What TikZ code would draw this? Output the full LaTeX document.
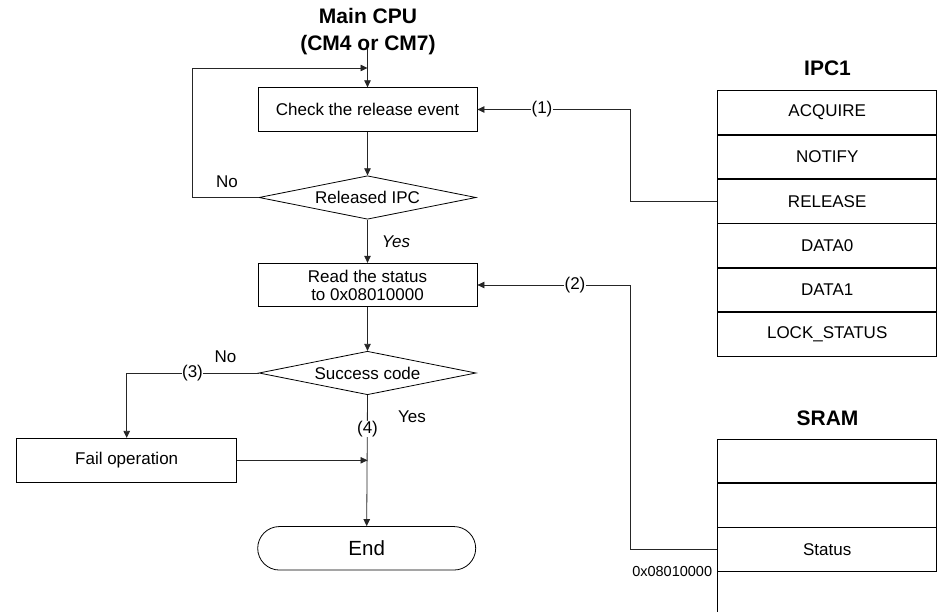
\documentclass[tikz,border=0pt]{standalone}
\usepackage{fontspec}
\setmainfont{Liberation Sans}
\usetikzlibrary{shapes.geometric,shapes.misc,arrows.meta,calc}
\begin{document}
\begin{tikzpicture}[x=1pt,y=-1pt,
  txt/.style={font=\fontsize{17}{20}\selectfont},
  box/.style={draw=black,line width=0.8pt,rectangle,minimum width=219pt,minimum height=43.5pt,inner sep=0pt,txt,align=center},
  dec/.style={draw=black,line width=0.8pt,diamond,aspect=5,minimum width=217pt,minimum height=43.5pt,inner sep=0pt,txt},
  term/.style={draw=black,line width=0.8pt,rounded rectangle,minimum width=218pt,minimum height=43.5pt,inner sep=0pt,font=\fontsize{20.5}{24}\selectfont},
  reg/.style={draw=black,line width=0.8pt,rectangle,minimum width=219pt,minimum height=43.6pt,inner sep=0pt,txt},
  title/.style={font=\bfseries\fontsize{21}{26.5}\selectfont,align=center},
  conn/.style={draw=black!85,line width=0.8pt},
  arr/.style={conn,-{Triangle[length=7pt,width=6.5pt]}},
  lbl/.style={txt,fill=white,inner sep=0.5pt},
  plain/.style={txt,inner sep=0pt}
]
\useasboundingbox (0,0) rectangle (937,612);

% title
\node[title] (cpu) at (368,31.5) {Main CPU\\(CM4 or CM7)};
\coordinate (top) at (367.5,48);
\coordinate (loopL) at (192.3,68);

% flow nodes
\node[box] (b1) at (367.5,109.5) {Check the release event};
\node[dec] (d1) at (367.5,197.5) {Released IPC};
\node[box] (b2) at (367.5,285) {Read the status\\[-2pt]to 0x08010000};
\node[dec] (d2) at (367.5,373) {Success code};
\node[box,minimum width=220pt,minimum height=44pt] (fail) at (126.7,460.3) {Fail operation};
\node[term] (end) at (366.7,548.3) {End};

% IPC1 registers
\node[title] (ipct) at (827.5,68) {IPC1};
\node[reg] (acq) at (827.2,112.5) {ACQUIRE};
\node[reg,anchor=north] (not) at (acq.south) {NOTIFY};
\node[reg,anchor=north] (rel) at (not.south) {RELEASE};
\node[reg,anchor=north] (da0) at (rel.south) {DATA0};
\node[reg,anchor=north] (da1) at (da0.south) {DATA1};
\node[reg,anchor=north] (lck) at (da1.south) {LOCK\_STATUS};

% SRAM
\node[title] (sramt) at (827.5,418) {SRAM};
\node[reg] (s1) at (827.2,460.8) {};
\node[reg,anchor=north] (s2) at (s1.south) {};
\node[reg,anchor=north] (sta) at (s2.south) {Status};
\coordinate (sbl) at (sta.south west);
\coordinate (sbr) at (sta.south east);
\draw[draw=black,line width=0.8pt] (sbl) -- (sbl |- 0,612);
\draw[draw=black,line width=0.8pt] (sbr) -- (sbr |- 0,612);
\node[font=\fontsize{14.5}{17}\selectfont,anchor=east,inner sep=0pt] (addr) at ($(sbl)+(-5,0)$) {0x08010000};

% connectors in flow
\coordinate (join) at (367.5,68);
\draw[arr] (top) -- (b1.north);
\draw[arr] (d1.west) -| (loopL) -- (join);
\draw[arr] (b1.south) -- (d1.north);
\draw[arr] (d1.south) -- (b2.north);
\draw[arr] (b2.south) -- (d2.north);
\draw[arr] (d2.west) -| (fail.north);
\coordinate (fj) at (fail.east -| d2.south);
\draw[arr] (fail.east) -- (fj);
\draw[arr] (d2.south) -- (end.north);

% connectors from registers
\coordinate (j1) at (630,0);
\draw[arr] (rel.west) -- (rel.west -| j1) -- (b1.east -| j1) -- (b1.east);
\draw[arr] (sta.west) -- (sta.west -| j1) -- (b2.east -| j1) -- (b2.east);

% labels
\node[plain] (no1) at (227,182) {No};
\node[plain,font=\itshape\fontsize{17}{20}\selectfont] (yes1) at (396,242) {Yes};
\node[plain] (no2) at (225.5,357) {No};
\node[plain] (yes2) at (412,417) {Yes};
\node[lbl] (l1) at (542,109.5) {(1)};
\node[lbl] (l2) at (575,285) {(2)};
\node[lbl] (l3) at (192.5,373) {(3)};
\node[lbl] (l4) at (367.5,429) {(4)};
\end{tikzpicture}
\end{document}
